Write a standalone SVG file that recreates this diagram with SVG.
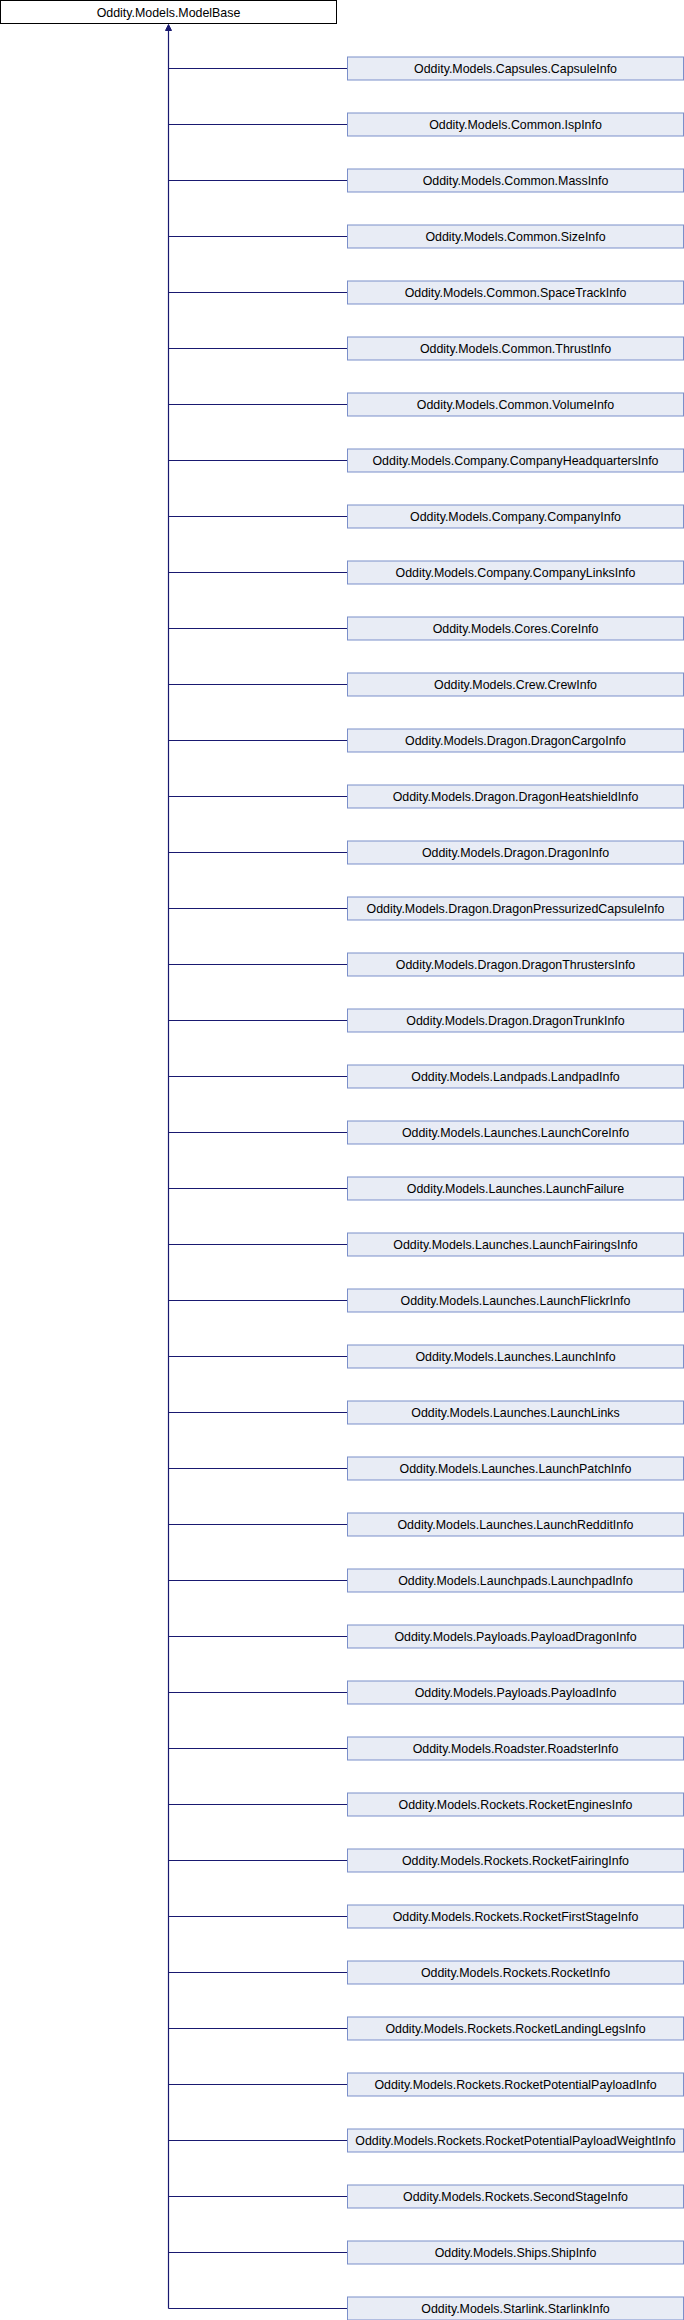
<svg xmlns="http://www.w3.org/2000/svg" width="684" height="2320" viewBox="0 0 684 2320">
<style>
.n rect{fill:#E8ECF5;stroke:#7B8FCA;stroke-width:1}
.r rect{fill:#FFFFFF;stroke:#000000;stroke-width:1}
text{font-family:"Liberation Sans",Arial,sans-serif;font-size:12.4px;fill:#000;text-anchor:middle}
.e line{stroke:#191970;stroke-width:1.2;fill:none}
.e polygon{fill:#191970;stroke:#191970;stroke-width:1}
</style>
<rect width="684" height="2320" fill="#FFFFFF"/>
<g id="node_root" class="r"><rect x="0.5" y="0.5" width="336" height="23"/><text x="168.5" y="16.5">Oddity.Models.ModelBase</text></g>
<g id="edges" class="e">
<line x1="168.5" y1="30" x2="168.5" y2="2308.5"/>
<polygon points="168.5,24.5 165.5,30.5 171.5,30.5"/>
<line x1="168.5" y1="68.5" x2="347.5" y2="68.5"/>
<line x1="168.5" y1="124.5" x2="347.5" y2="124.5"/>
<line x1="168.5" y1="180.5" x2="347.5" y2="180.5"/>
<line x1="168.5" y1="236.5" x2="347.5" y2="236.5"/>
<line x1="168.5" y1="292.5" x2="347.5" y2="292.5"/>
<line x1="168.5" y1="348.5" x2="347.5" y2="348.5"/>
<line x1="168.5" y1="404.5" x2="347.5" y2="404.5"/>
<line x1="168.5" y1="460.5" x2="347.5" y2="460.5"/>
<line x1="168.5" y1="516.5" x2="347.5" y2="516.5"/>
<line x1="168.5" y1="572.5" x2="347.5" y2="572.5"/>
<line x1="168.5" y1="628.5" x2="347.5" y2="628.5"/>
<line x1="168.5" y1="684.5" x2="347.5" y2="684.5"/>
<line x1="168.5" y1="740.5" x2="347.5" y2="740.5"/>
<line x1="168.5" y1="796.5" x2="347.5" y2="796.5"/>
<line x1="168.5" y1="852.5" x2="347.5" y2="852.5"/>
<line x1="168.5" y1="908.5" x2="347.5" y2="908.5"/>
<line x1="168.5" y1="964.5" x2="347.5" y2="964.5"/>
<line x1="168.5" y1="1020.5" x2="347.5" y2="1020.5"/>
<line x1="168.5" y1="1076.5" x2="347.5" y2="1076.5"/>
<line x1="168.5" y1="1132.5" x2="347.5" y2="1132.5"/>
<line x1="168.5" y1="1188.5" x2="347.5" y2="1188.5"/>
<line x1="168.5" y1="1244.5" x2="347.5" y2="1244.5"/>
<line x1="168.5" y1="1300.5" x2="347.5" y2="1300.5"/>
<line x1="168.5" y1="1356.5" x2="347.5" y2="1356.5"/>
<line x1="168.5" y1="1412.5" x2="347.5" y2="1412.5"/>
<line x1="168.5" y1="1468.5" x2="347.5" y2="1468.5"/>
<line x1="168.5" y1="1524.5" x2="347.5" y2="1524.5"/>
<line x1="168.5" y1="1580.5" x2="347.5" y2="1580.5"/>
<line x1="168.5" y1="1636.5" x2="347.5" y2="1636.5"/>
<line x1="168.5" y1="1692.5" x2="347.5" y2="1692.5"/>
<line x1="168.5" y1="1748.5" x2="347.5" y2="1748.5"/>
<line x1="168.5" y1="1804.5" x2="347.5" y2="1804.5"/>
<line x1="168.5" y1="1860.5" x2="347.5" y2="1860.5"/>
<line x1="168.5" y1="1916.5" x2="347.5" y2="1916.5"/>
<line x1="168.5" y1="1972.5" x2="347.5" y2="1972.5"/>
<line x1="168.5" y1="2028.5" x2="347.5" y2="2028.5"/>
<line x1="168.5" y1="2084.5" x2="347.5" y2="2084.5"/>
<line x1="168.5" y1="2140.5" x2="347.5" y2="2140.5"/>
<line x1="168.5" y1="2196.5" x2="347.5" y2="2196.5"/>
<line x1="168.5" y1="2252.5" x2="347.5" y2="2252.5"/>
<line x1="168.5" y1="2308.5" x2="347.5" y2="2308.5"/>
</g>
<g id="node1" class="n"><rect x="347.5" y="57" width="336" height="23"/><text x="515.5" y="73">Oddity.Models.Capsules.CapsuleInfo</text></g>
<g id="node2" class="n"><rect x="347.5" y="113" width="336" height="23"/><text x="515.5" y="129">Oddity.Models.Common.IspInfo</text></g>
<g id="node3" class="n"><rect x="347.5" y="169" width="336" height="23"/><text x="515.5" y="185">Oddity.Models.Common.MassInfo</text></g>
<g id="node4" class="n"><rect x="347.5" y="225" width="336" height="23"/><text x="515.5" y="241">Oddity.Models.Common.SizeInfo</text></g>
<g id="node5" class="n"><rect x="347.5" y="281" width="336" height="23"/><text x="515.5" y="297">Oddity.Models.Common.SpaceTrackInfo</text></g>
<g id="node6" class="n"><rect x="347.5" y="337" width="336" height="23"/><text x="515.5" y="353">Oddity.Models.Common.ThrustInfo</text></g>
<g id="node7" class="n"><rect x="347.5" y="393" width="336" height="23"/><text x="515.5" y="409">Oddity.Models.Common.VolumeInfo</text></g>
<g id="node8" class="n"><rect x="347.5" y="449" width="336" height="23"/><text x="515.5" y="465">Oddity.Models.Company.CompanyHeadquartersInfo</text></g>
<g id="node9" class="n"><rect x="347.5" y="505" width="336" height="23"/><text x="515.5" y="521">Oddity.Models.Company.CompanyInfo</text></g>
<g id="node10" class="n"><rect x="347.5" y="561" width="336" height="23"/><text x="515.5" y="577">Oddity.Models.Company.CompanyLinksInfo</text></g>
<g id="node11" class="n"><rect x="347.5" y="617" width="336" height="23"/><text x="515.5" y="633">Oddity.Models.Cores.CoreInfo</text></g>
<g id="node12" class="n"><rect x="347.5" y="673" width="336" height="23"/><text x="515.5" y="689">Oddity.Models.Crew.CrewInfo</text></g>
<g id="node13" class="n"><rect x="347.5" y="729" width="336" height="23"/><text x="515.5" y="745">Oddity.Models.Dragon.DragonCargoInfo</text></g>
<g id="node14" class="n"><rect x="347.5" y="785" width="336" height="23"/><text x="515.5" y="801">Oddity.Models.Dragon.DragonHeatshieldInfo</text></g>
<g id="node15" class="n"><rect x="347.5" y="841" width="336" height="23"/><text x="515.5" y="857">Oddity.Models.Dragon.DragonInfo</text></g>
<g id="node16" class="n"><rect x="347.5" y="897" width="336" height="23"/><text x="515.5" y="913">Oddity.Models.Dragon.DragonPressurizedCapsuleInfo</text></g>
<g id="node17" class="n"><rect x="347.5" y="953" width="336" height="23"/><text x="515.5" y="969">Oddity.Models.Dragon.DragonThrustersInfo</text></g>
<g id="node18" class="n"><rect x="347.5" y="1009" width="336" height="23"/><text x="515.5" y="1025">Oddity.Models.Dragon.DragonTrunkInfo</text></g>
<g id="node19" class="n"><rect x="347.5" y="1065" width="336" height="23"/><text x="515.5" y="1081">Oddity.Models.Landpads.LandpadInfo</text></g>
<g id="node20" class="n"><rect x="347.5" y="1121" width="336" height="23"/><text x="515.5" y="1137">Oddity.Models.Launches.LaunchCoreInfo</text></g>
<g id="node21" class="n"><rect x="347.5" y="1177" width="336" height="23"/><text x="515.5" y="1193">Oddity.Models.Launches.LaunchFailure</text></g>
<g id="node22" class="n"><rect x="347.5" y="1233" width="336" height="23"/><text x="515.5" y="1249">Oddity.Models.Launches.LaunchFairingsInfo</text></g>
<g id="node23" class="n"><rect x="347.5" y="1289" width="336" height="23"/><text x="515.5" y="1305">Oddity.Models.Launches.LaunchFlickrInfo</text></g>
<g id="node24" class="n"><rect x="347.5" y="1345" width="336" height="23"/><text x="515.5" y="1361">Oddity.Models.Launches.LaunchInfo</text></g>
<g id="node25" class="n"><rect x="347.5" y="1401" width="336" height="23"/><text x="515.5" y="1417">Oddity.Models.Launches.LaunchLinks</text></g>
<g id="node26" class="n"><rect x="347.5" y="1457" width="336" height="23"/><text x="515.5" y="1473">Oddity.Models.Launches.LaunchPatchInfo</text></g>
<g id="node27" class="n"><rect x="347.5" y="1513" width="336" height="23"/><text x="515.5" y="1529">Oddity.Models.Launches.LaunchRedditInfo</text></g>
<g id="node28" class="n"><rect x="347.5" y="1569" width="336" height="23"/><text x="515.5" y="1585">Oddity.Models.Launchpads.LaunchpadInfo</text></g>
<g id="node29" class="n"><rect x="347.5" y="1625" width="336" height="23"/><text x="515.5" y="1641">Oddity.Models.Payloads.PayloadDragonInfo</text></g>
<g id="node30" class="n"><rect x="347.5" y="1681" width="336" height="23"/><text x="515.5" y="1697">Oddity.Models.Payloads.PayloadInfo</text></g>
<g id="node31" class="n"><rect x="347.5" y="1737" width="336" height="23"/><text x="515.5" y="1753">Oddity.Models.Roadster.RoadsterInfo</text></g>
<g id="node32" class="n"><rect x="347.5" y="1793" width="336" height="23"/><text x="515.5" y="1809">Oddity.Models.Rockets.RocketEnginesInfo</text></g>
<g id="node33" class="n"><rect x="347.5" y="1849" width="336" height="23"/><text x="515.5" y="1865">Oddity.Models.Rockets.RocketFairingInfo</text></g>
<g id="node34" class="n"><rect x="347.5" y="1905" width="336" height="23"/><text x="515.5" y="1921">Oddity.Models.Rockets.RocketFirstStageInfo</text></g>
<g id="node35" class="n"><rect x="347.5" y="1961" width="336" height="23"/><text x="515.5" y="1977">Oddity.Models.Rockets.RocketInfo</text></g>
<g id="node36" class="n"><rect x="347.5" y="2017" width="336" height="23"/><text x="515.5" y="2033">Oddity.Models.Rockets.RocketLandingLegsInfo</text></g>
<g id="node37" class="n"><rect x="347.5" y="2073" width="336" height="23"/><text x="515.5" y="2089">Oddity.Models.Rockets.RocketPotentialPayloadInfo</text></g>
<g id="node38" class="n"><rect x="347.5" y="2129" width="336" height="23"/><text x="515.5" y="2145">Oddity.Models.Rockets.RocketPotentialPayloadWeightInfo</text></g>
<g id="node39" class="n"><rect x="347.5" y="2185" width="336" height="23"/><text x="515.5" y="2201">Oddity.Models.Rockets.SecondStageInfo</text></g>
<g id="node40" class="n"><rect x="347.5" y="2241" width="336" height="23"/><text x="515.5" y="2257">Oddity.Models.Ships.ShipInfo</text></g>
<g id="node41" class="n"><rect x="347.5" y="2297" width="336" height="23"/><text x="515.5" y="2313">Oddity.Models.Starlink.StarlinkInfo</text></g>
</svg>
